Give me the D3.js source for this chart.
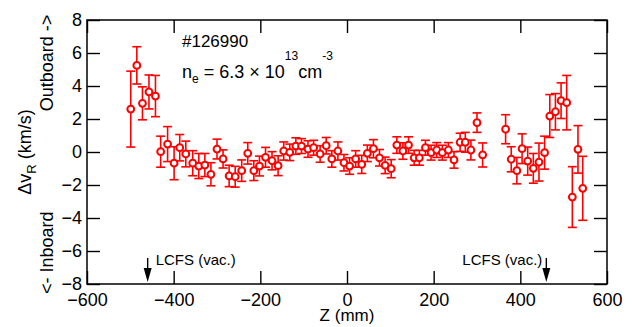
<!DOCTYPE html>
<html>
<head>
<meta charset="utf-8">
<script src="https://cdnjs.cloudflare.com/ajax/libs/d3/7.8.5/d3.min.js"></script>
<style>
    body { margin: 0; background: #fff; }
    svg { display: block; font-family: "Liberation Sans", Arial, sans-serif; }
</style>
</head>
<body>
<div id="chart"></div>
<script>
// Z position of each chord (mm)
const zPositions = [
    -499, -485, -472, -457, -442, -430, -414, -399, -386, -372,
    -356, -342, -328, -314, -300, -286, -272, -258, -243, -229,
    -215, -202, -188, -173, -159, -146, -132, -118, -105, -90,
    -77, -62, -48, -35, -21, -7, 6, 20, 34, 47,
    61, 75, 88, 102, 115, 129, 142, 155, 167, 181,
    194, 207, 220, 234, 247, 261, 273, 286, 300, 313,
    366, 379, 392, 404, 417, 430, 443, 456, 468, 481,
    494, 507, 520, 533, 544
];

// radial velocity shift (km/s)
const velocityShifts = [
    2.6, 5.25, 2.95, 3.64, 3.39, 0.02, 0.48, -0.68, 0.26, -0.12,
    -0.68, -0.85, -0.79, -1.35, 0.18, -0.42, -1.45, -1.5, -1.13, -0.08,
    -1.13, -0.85, -0.32, -0.53, -0.83, 0.06, -0.02, 0.36, 0.36, 0.18,
    0.26, -0.12, 0.38, -0.42, 0.06, -0.65, -0.85, -0.42, -0.75, -0.08,
    0.2, -0.35, -0.81, -1.01, 0.42, 0.06, 0.42, -0.35, -0.35, 0.26,
    -0.04, 0.12, -0.04, 0.12, -0.48, 0.59, 0.59, 0.12, 1.78, -0.18,
    1.38, -0.44, -1.13, 0.2, -0.55, -0.99, -0.61, -0.04, 2.18, 2.44,
    3.11, 2.99, -2.73, 0.16, -2.2
];

// error bar half-widths (km/s)
const velocityErrors = [
    2.3, 1.13, 1.0, 1.03, 1.25, 0.94, 1.06, 1.0, 0.8, 0.78,
    0.76, 0.76, 0.7, 0.7, 0.6, 0.55, 0.65, 0.63, 0.65, 0.65,
    0.6, 0.6, 0.6, 0.55, 0.6, 0.55, 0.5, 0.5, 0.45, 0.5,
    0.45, 0.5, 0.5, 0.5, 0.55, 0.5, 0.5, 0.5, 0.55, 0.5,
    0.55, 0.5, 0.5, 0.55, 0.5, 0.5, 0.5, 0.45, 0.45, 0.45,
    0.45, 0.45, 0.45, 0.45, 0.5, 0.55, 0.6, 0.6, 0.59, 0.73,
    0.88, 0.76, 0.8, 0.9, 0.85, 0.9, 1.15, 1.0, 1.3, 1.1,
    1.08, 1.65, 1.84, 1.44, 1.94
];

const xTicks = [-600, -400, -200, 0, 200, 400, 600];
const yTicks = [-8, -6, -4, -2, 0, 2, 4, 6, 8];
const lcfsPositions = [-460, 460];

const width = 635;
const height = 327;
const margin = { top: 20, right: 28, bottom: 43, left: 87 };
const chartWidth = width - margin.left - margin.right;
const chartHeight = height - margin.top - margin.bottom;
const red = "#ff0000";

const svg = d3.select("#chart").append("svg")
    .attr("width", width)
    .attr("height", height);

const chartGroup = svg.append("g")
    .attr("transform", `translate(${margin.left}, ${margin.top})`);

const xScale = d3.scaleLinear().domain([-600, 600]).range([0, chartWidth]);
const yScale = d3.scaleLinear().domain([-8, 8]).range([chartHeight, 0]);

function styleAxis(g) {
    g.select(".domain").remove();
    g.selectAll(".tick line").attr("stroke", "#000").attr("stroke-width", 1.4);
    g.selectAll(".tick text")
        .attr("fill", "#000")
        .style("font-size", "18px")
        .style("font-family", "'Liberation Sans', Arial, sans-serif");
}

// axes, ticks pointing inward on all four sides
chartGroup.append("g")
    .attr("transform", `translate(0, ${chartHeight})`)
    .call(d3.axisBottom(xScale).tickValues(xTicks).tickSize(-13).tickPadding(9))
    .call(styleAxis);

chartGroup.append("g")
    .call(d3.axisTop(xScale).tickValues(xTicks).tickSize(-13).tickFormat(""))
    .call(styleAxis);

chartGroup.append("g")
    .call(d3.axisLeft(yScale).tickValues(yTicks).tickSize(-13).tickPadding(5))
    .call(styleAxis);

chartGroup.append("g")
    .attr("transform", `translate(${chartWidth}, 0)`)
    .call(d3.axisRight(yScale).tickValues(yTicks).tickSize(-13).tickFormat(""))
    .call(styleAxis);

chartGroup.append("rect")
    .attr("width", chartWidth)
    .attr("height", chartHeight)
    .attr("fill", "none")
    .attr("stroke", "#000")
    .attr("stroke-width", 1.5);

// error bars
const points = zPositions.map((z, i) => ({
    z: z,
    v: velocityShifts[i],
    err: velocityErrors[i]
}));

const bars = chartGroup.append("g")
    .attr("stroke", red)
    .attr("stroke-width", 1.6);

bars.selectAll("line.stem")
    .data(points)
    .join("line")
    .attr("class", "stem")
    .attr("x1", d => xScale(d.z))
    .attr("x2", d => xScale(d.z))
    .attr("y1", d => yScale(d.v - d.err))
    .attr("y2", d => yScale(d.v + d.err));

[-1, 1].forEach(sign => {
    bars.selectAll(`line.cap${sign}`)
        .data(points)
        .join("line")
        .attr("class", `cap${sign}`)
        .attr("x1", d => xScale(d.z) - 4.5)
        .attr("x2", d => xScale(d.z) + 4.5)
        .attr("y1", d => yScale(d.v + sign * d.err))
        .attr("y2", d => yScale(d.v + sign * d.err));
});

chartGroup.append("g")
    .selectAll("circle")
    .data(points)
    .join("circle")
    .attr("cx", d => xScale(d.z))
    .attr("cy", d => yScale(d.v))
    .attr("r", 3.4)
    .attr("fill", "#fff")
    .attr("stroke", red)
    .attr("stroke-width", 2);

// LCFS markers
lcfsPositions.forEach((z, i) => {
    const x = xScale(z);
    chartGroup.append("line")
        .attr("x1", x).attr("x2", x)
        .attr("y1", chartHeight - 26).attr("y2", chartHeight - 12)
        .attr("stroke", "#000")
        .attr("stroke-width", 1.4);
    chartGroup.append("path")
        .attr("d", `M${x - 4},${chartHeight - 16} L${x + 4},${chartHeight - 16} L${x},${chartHeight - 2} Z`)
        .attr("fill", "#000");
    chartGroup.append("text")
        .attr("x", i === 0 ? x + 8 : x - 4)
        .attr("y", chartHeight - 19)
        .attr("text-anchor", i === 0 ? "start" : "end")
        .style("font-size", "15px")
        .text("LCFS (vac.)");
});

// annotation
const note = svg.append("g").style("font-size", "17px");
note.append("text")
    .attr("x", 182)
    .attr("y", 47)
    .text("#126990");

const density = note.append("text")
    .attr("x", 182)
    .attr("y", 78)
    .style("font-size", "18px");
density.append("tspan").text("n");
density.append("tspan").attr("dy", 5).style("font-size", "12px").text("e");
density.append("tspan").attr("dy", -5).text(" = 6.3 × 10");
density.append("tspan").attr("dy", -18).style("font-size", "12px").text("13");
density.append("tspan").attr("dy", 18).text("cm");
density.append("tspan").attr("dy", -18).style("font-size", "12px").text("-3");

// axis titles
svg.append("text")
    .attr("x", margin.left + xScale(0))
    .attr("y", 321)
    .attr("text-anchor", "middle")
    .style("font-size", "17px")
    .text("Z (mm)");

const yTitle = svg.append("text")
    .attr("transform", `translate(31, ${margin.top + yScale(0)}) rotate(-90)`)
    .attr("text-anchor", "middle")
    .style("font-size", "18px");
yTitle.append("tspan").text("Δv");
yTitle.append("tspan").attr("dy", 5).style("font-size", "13px").text("R");
yTitle.append("tspan").attr("dy", -5).text(" (km/s)");

svg.append("text")
    .attr("transform", `translate(53, ${margin.top + yScale(5.4)}) rotate(-90)`)
    .attr("text-anchor", "middle")
    .style("font-size", "18px")
    .text("Outboard ->");

svg.append("text")
    .attr("transform", `translate(53, ${margin.top + yScale(-6.1)}) rotate(-90)`)
    .attr("text-anchor", "middle")
    .style("font-size", "18px")
    .text("<- Inboard");
</script>
</body>
</html>
